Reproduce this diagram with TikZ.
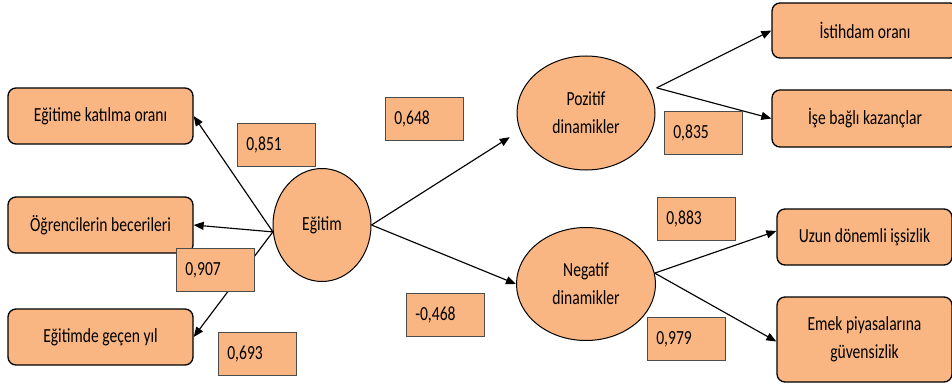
\documentclass[tikz,border=0pt]{standalone}
\usepackage{fontspec}
\setmainfont{Carlito}[FakeStretch=0.78]
\usetikzlibrary{arrows.meta,positioning,shapes.geometric}
\definecolor{peach}{RGB}{250,182,130}

\begin{document}
\begin{tikzpicture}[x=1pt,y=-1pt,
    indicator/.style={rectangle, rounded corners=8pt, draw, line width=1.3pt, fill=peach, align=center, inner sep=2pt, font=\fontsize{20}{28}\selectfont},
    latent/.style={ellipse, draw, line width=1pt, fill=peach, align=center, inner sep=0pt, font=\fontsize{20}{28}\selectfont},
    loading/.style={rectangle, draw=black!70, line width=0.6pt, fill=peach, anchor=north west, minimum width=78pt, minimum height=43pt, text width=60pt, inner xsep=9pt, align=left, font=\fontsize{20}{24}\selectfont},
    link/.style={-{Triangle[length=10pt,width=8pt]}, line width=1.15pt}]
    \useasboundingbox (0,0) rectangle (952,385);

    % left side indicators
    \node[indicator, minimum width=185pt, minimum height=56pt] (katilma) at (100.5,116) {Eğitime katılma oranı};
    \node[indicator, minimum width=185pt, minimum height=56pt] (beceri) at (100.5,225) {Öğrencilerin becerileri};
    \node[indicator, minimum width=185pt, minimum height=56pt] (yil) at (100.5,337) {Eğitimde geçen yıl};

    % latent variables
    \node[latent, minimum width=98pt, minimum height=113pt] (egitim) at (322,225) {Eğitim};
    \node[latent, minimum width=138pt, minimum height=114pt] (pozitif) at (586,113) {Pozitif\\dinamikler};
    \node[latent, minimum width=139pt, minimum height=113pt] (negatif) at (586,284) {Negatif\\dinamikler};

    % right side indicators
    \node[indicator, minimum width=186pt, minimum height=55pt] (istihdam) at (865,30.5) {İstihdam oranı};
    \node[indicator, minimum width=186pt, minimum height=57pt] (kazanc) at (865,118.5) {İşe bağlı kazançlar};
    \node[indicator, minimum width=175pt, minimum height=56pt] (uzun) at (864.5,237) {Uzun dönemli işsizlik};
    \node[indicator, minimum width=175pt, minimum height=85pt] (emek) at (864.5,339.5) {Emek piyasalarına\\güvensizlik};

    \coordinate (poztip) at ([xshift=7pt,yshift=2pt]pozitif.20);

    \draw[link] (egitim.188) -- (katilma.east);
    \draw[link] (egitim.188) -- (beceri.east);
    \draw[link] (egitim.188) -- (yil.east);
    \draw[link, shorten >=12pt] (egitim.east) -- (pozitif.195);
    \draw[link] (egitim.east) -- (negatif.west);
    \draw[link] (poztip) -- (istihdam.west);
    \draw[link] (poztip) -- (kazanc.west);
    \draw[link] (negatif.9) -- ([yshift=6pt]uzun.west);
    \draw[link] (negatif.9) -- ([yshift=-2pt]emek.west);

    % loadings
    \node[loading] (l851) at (237,123) {0,851};
    \node[loading] (l907) at (176,248) {0,907};
    \node[loading] (l693) at (218,332) {0,693};
    \node[loading] (l648) at (385,97) {0,648};
    \node[loading] (l468) at (406,293) {-0,468};
    \node[loading] (l835) at (664,111) {0,835};
    \node[loading] (l883) at (657,197) {0,883};
    \node[loading] (l979) at (647,317) {0,979};
\end{tikzpicture}
\end{document}
